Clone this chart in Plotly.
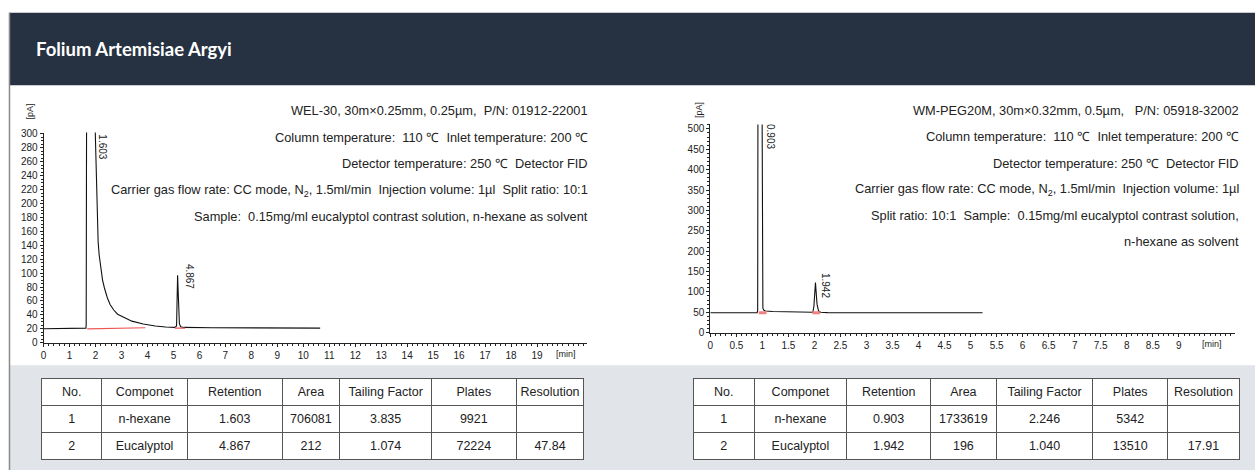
import plotly.graph_objects as go

W, H = 1255, 476

# ---------------- data ----------------
title_text = "Folium Artemisiae Argyi"

left_time = [0, 1.60, 1.63, 1.64, 1.655, 1.97, 1.99, 2.02, 2.06, 2.10, 2.14, 2.20, 2.27, 2.34,
             2.45, 2.56, 2.70, 2.85, 3.12, 3.40, 3.84, 4.30, 4.70, 5.05, 5.12, 5.14, 5.16, 5.18,
             5.20, 5.23, 5.28, 5.40, 6.50, 8.50, 10.65]
left_signal = [20, 20, 21, 26, 330, 330, 300, 230, 175, 145, 126, 105, 90, 79,
               65, 55, 47, 41, 36, 31, 27, 24, 22.5, 22, 24, 60, 97, 75,
               40, 27, 23, 22, 21.5, 21.2, 21]
left_base1_time = [1.68, 3.92]
left_base1_signal = [19.8, 21.5]
left_base2_time = [5.05, 5.45]
left_base2_signal = [21.0, 21.0]
left_peak_labels = ["1.603", "4.867"]
left_xticks = list(range(0, 20))
left_yticks = list(range(0, 301, 20))

right_time = [0, 0.90, 0.91, 0.915, 0.995, 1.0, 1.01, 1.03, 1.06, 1.20, 1.50, 1.90, 1.97,
              1.99, 2.01, 2.02, 2.03, 2.05, 2.08, 2.12, 2.25, 5.23]
right_signal = [49, 49, 55, 540, 540, 150, 60, 55, 53, 52, 50.5, 49.5, 50,
                65, 110, 123, 105, 70, 53, 50, 49.2, 49]
right_base1_time = [0.93, 1.08]
right_base1_signal = [49, 49]
right_base2_time = [1.96, 2.11]
right_base2_signal = [49, 49]
right_peak_labels = ["0.903", "1.942"]
right_xticks = [0, 0.5, 1, 1.5, 2, 2.5, 3, 3.5, 4, 4.5, 5, 5.5, 6, 6.5, 7, 7.5, 8, 8.5, 9]
right_yticks = list(range(0, 501, 50))

left_info = [
    "WEL-30, 30m×0.25mm, 0.25µm,  P/N: 01912-22001",
    "Column temperature:  110 ℃  Inlet temperature: 200 ℃",
    "Detector temperature: 250 ℃  Detector FID",
    "Carrier gas flow rate: CC mode, N<sub>2</sub>, 1.5ml/min  Injection volume: 1µl  Split ratio: 10:1",
    "Sample:  0.15mg/ml eucalyptol contrast solution, n-hexane as solvent",
]
right_info = [
    "WM-PEG20M, 30m×0.32mm, 0.5µm,   P/N: 05918-32002",
    "Column temperature:  110 ℃  Inlet temperature: 200 ℃",
    "Detector temperature: 250 ℃  Detector FID",
    "Carrier gas flow rate: CC mode, N<sub>2</sub>, 1.5ml/min  Injection volume: 1µl",
    "Split ratio: 10:1  Sample:  0.15mg/ml eucalyptol contrast solution,",
    "n-hexane as solvent",
]

table_header = ["No.", "Componet", "Retention", "Area", "Tailing Factor", "Plates", "Resolution"]
left_no = ["1", "2"]
left_comp = ["n-hexane", "Eucalyptol"]
left_ret = ["1.603", "4.867"]
left_area = ["706081", "212"]
left_tail = ["3.835", "1.074"]
left_plates = ["9921", "72224"]
left_res = ["", "47.84"]
right_no = ["1", "2"]
right_comp = ["n-hexane", "Eucalyptol"]
right_ret = ["0.903", "1.942"]
right_area = ["1733619", "196"]
right_tail = ["2.246", "1.040"]
right_plates = ["5342", "13510"]
right_res = ["", "17.91"]

# ---------------- helpers ----------------
def px(x):
    return x / W

def py(y):
    return 1 - y / H

FONT = "Liberation Sans, Arial, sans-serif"
DARK = "#263241"
GRAYBG = "#e1e4e9"
INK = "#222222"

fig = go.Figure()

# chromatograms
fig.add_trace(go.Scatter(x=left_time, y=left_signal, mode="lines",
                         line=dict(color="#111111", width=1.1), xaxis="x", yaxis="y",
                         hoverinfo="skip"))
for bt, bs in [(left_base1_time, left_base1_signal), (left_base2_time, left_base2_signal)]:
    fig.add_trace(go.Scatter(x=bt, y=bs, mode="lines", line=dict(color="#ee5555", width=1.2),
                             xaxis="x", yaxis="y", hoverinfo="skip"))
fig.add_trace(go.Scatter(x=right_time, y=right_signal, mode="lines",
                         line=dict(color="#111111", width=1.1), xaxis="x2", yaxis="y2",
                         hoverinfo="skip"))
for bt, bs in [(right_base1_time, right_base1_signal), (right_base2_time, right_base2_signal)]:
    fig.add_trace(go.Scatter(x=bt, y=bs, mode="lines", line=dict(color="#f08080", width=3),
                             xaxis="x2", yaxis="y2", hoverinfo="skip"))

# tables
header_nowrap = [h.replace(" ", "\u00a0") for h in table_header]

def add_table(cols, widths, x0, x1):
    fig.add_trace(go.Table(
        domain=dict(x=[px(x0), px(x1)], y=[py(466), py(383)]),
        columnwidth=widths,
        header=dict(values=header_nowrap, fill_color="white", align="center",
                    line=dict(color="#555555", width=1),
                    font=dict(family=FONT, size=12.5, color=INK), height=27),
        cells=dict(values=cols, fill_color="white", align="center",
                   line=dict(color="#555555", width=1),
                   font=dict(family=FONT, size=12.5, color=INK), height=27),
    ))

add_table([left_no, left_comp, left_ret, left_area, left_tail, left_plates, left_res],
          [60, 86, 95, 58, 92, 85, 68], 39, 583)
add_table([right_no, right_comp, right_ret, right_area, right_tail, right_plates, right_res],
          [61, 93, 84, 66, 97, 75, 72], 692, 1240)

axis_common = dict(showgrid=False, zeroline=False, showline=True, linecolor="#222222",
                   linewidth=1, ticks="outside", ticklen=3, tickcolor="#222222",
                   tickfont=dict(family=FONT, size=10, color=INK), fixedrange=True)

fig.update_layout(
    width=W, height=H, margin=dict(l=0, r=0, t=0, b=0),
    paper_bgcolor="white", plot_bgcolor="rgba(0,0,0,0)", showlegend=False,
    xaxis=dict(domain=[px(40.7), px(585)], range=[0, 20.91], anchor="y",
               tickmode="array", tickvals=left_xticks,
               minor=dict(tickmode="linear", tick0=0, dtick=0.2, ticks="outside",
                          ticklen=2, tickcolor="#222222"),
               **axis_common),
    yaxis=dict(domain=[py(346), py(131.3)], range=[0, 302], anchor="x",
               tickmode="array", tickvals=left_yticks,
               minor=dict(tickmode="linear", tick0=0, dtick=5, ticks="outside",
                          ticklen=2, tickcolor="#222222"),
               **axis_common),
    xaxis2=dict(domain=[px(709), px(1235)], range=[0, 10.08], anchor="y2",
                tickmode="array", tickvals=right_xticks,
                minor=dict(tickmode="linear", tick0=0, dtick=0.1, ticks="outside",
                           ticklen=2, tickcolor="#222222"),
                **axis_common),
    yaxis2=dict(domain=[py(335.7), py(123)], range=[0, 511], anchor="x2",
                tickmode="array", tickvals=right_yticks,
                minor=dict(tickmode="linear", tick0=0, dtick=10, ticks="outside",
                           ticklen=2, tickcolor="#222222"),
                **axis_common),
)

# background shapes
shapes = [
    dict(type="rect", xref="paper", yref="paper", x0=px(6), x1=1, y0=py(83), y1=py(9),
         fillcolor=DARK, line=dict(width=0), layer="below"),
    dict(type="rect", xref="paper", yref="paper", x0=px(7), x1=1, y0=0, y1=py(369),
         fillcolor=GRAYBG, line=dict(width=0), layer="below"),
    dict(type="line", xref="paper", yref="paper", x0=px(6.5), x1=px(6.5), y0=0, y1=py(9),
         line=dict(color="#8a8a8a", width=1.5), layer="below"),
]
fig.update_layout(shapes=shapes)

ann = []
ann.append(dict(text="<b>" + title_text + "</b>", x=px(31), y=py(46), xref="paper", yref="paper",
                xanchor="left", yanchor="middle", showarrow=False,
                font=dict(family="Lato, Inter, sans-serif", size=18.5, color="white")))
# units
for xx, yy in [(27, 110), (697, 108)]:
    ann.append(dict(text="[pA]", x=px(xx), y=py(yy), xref="paper", yref="paper",
                    textangle=-90, showarrow=False, xanchor="center", yanchor="middle",
                    font=dict(family=FONT, size=9, color=INK)))
ann.append(dict(text="[min]", x=20.1, xref="x", y=py(357), yref="paper", showarrow=False,
                xanchor="center", yanchor="middle", font=dict(family=FONT, size=9, color=INK)))
ann.append(dict(text="[min]", x=9.64, xref="x2", y=py(347), yref="paper", showarrow=False,
                xanchor="center", yanchor="middle", font=dict(family=FONT, size=9, color=INK)))
# peak labels
for lab, xx, yy, xr, yr in [(left_peak_labels[0], 2.28, 281, "x", "y"),
                            (left_peak_labels[1], 5.6, 96, "x", "y"),
                            (right_peak_labels[0], 1.17, 482, "x2", "y2"),
                            (right_peak_labels[1], 2.2, 115, "x2", "y2")]:
    ann.append(dict(text=lab, x=xx, y=yy, xref=xr, yref=yr, textangle=90, showarrow=False,
                    xanchor="center", yanchor="middle",
                    font=dict(family=FONT, size=10, color=INK)))
# info text
for i, line in enumerate(left_info):
    ann.append(dict(text=line, x=px(588), y=py(109 + 27 * i), xref="paper", yref="paper",
                    xanchor="right", yanchor="middle", showarrow=False,
                    font=dict(family=FONT, size=12.8, color=INK)))
for i, line in enumerate(right_info):
    ann.append(dict(text=line, x=px(1241), y=py(109 + 26.8 * i), xref="paper", yref="paper",
                    xanchor="right", yanchor="middle", showarrow=False,
                    font=dict(family=FONT, size=12.8, color=INK)))
fig.update_layout(annotations=ann)

fig.write_html("out.html", config={"displayModeBar": False},
               post_script="document.body.style.margin='0px';document.body.style.overflow='hidden';")
